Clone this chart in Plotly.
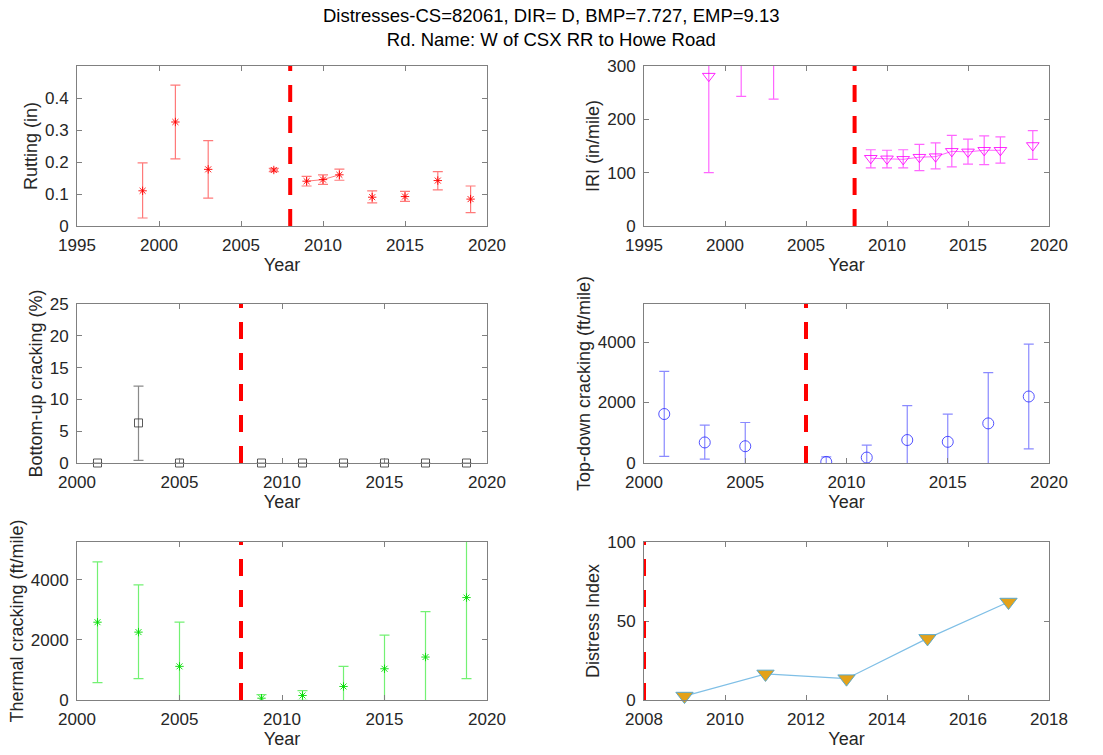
import plotly.graph_objects as go

# ---------------- data ----------------
TITLE_LINE1 = "Distresses-CS=82061, DIR= D, BMP=7.727, EMP=9.13"
TITLE_LINE2 = "Rd. Name: W of CSX RR to Howe Road"
MR_YEAR = 2008  # treatment year (red dashed line)

rut_years = [1999, 2001, 2003, 2007, 2009, 2010, 2011, 2013, 2015, 2017, 2019]
rut_mean = [0.110, 0.325, 0.177, 0.175, 0.140, 0.145, 0.160, 0.090, 0.092, 0.142, 0.084]
rut_lo = [0.025, 0.210, 0.087, 0.170, 0.125, 0.130, 0.143, 0.072, 0.077, 0.113, 0.042]
rut_hi = [0.197, 0.440, 0.267, 0.180, 0.155, 0.160, 0.178, 0.110, 0.108, 0.170, 0.125]

iri_years = [1999, 2001, 2003, 2009, 2010, 2011, 2012, 2013, 2014, 2015, 2016, 2017, 2019]
iri_mean = [281, 380, 375, 127, 126, 125, 129, 130, 140, 139, 142, 142, 151]
iri_lo = [100, 243, 238, 109, 109, 109, 104, 107, 111, 116, 115, 118, 125]
iri_hi = [462, 517, 512, 143, 142, 143, 153, 156, 170, 163, 169, 167, 179]

bu_years = [2001, 2003, 2005, 2009, 2011, 2013, 2015, 2017, 2019]
bu_mean = [0, 6.3, 0, 0, 0, 0, 0, 0, 0]
bu_lo = [0, 0.4, 0, 0, 0, 0, 0, 0, 0]
bu_hi = [0, 12.1, 0, 0, 0, 0, 0, 0, 0]

td_years = [2001, 2003, 2005, 2009, 2011, 2013, 2015, 2017, 2019]
td_mean = [1620, 680, 555, 35, 180, 760, 700, 1310, 2200]
td_lo = [220, 130, -230, -130, -230, -390, -220, -370, 470]
td_hi = [3030, 1250, 1340, 200, 590, 1900, 1620, 2990, 3930]

th_years = [2001, 2003, 2005, 2009, 2011, 2013, 2015, 2017, 2019]
th_mean = [2590, 2260, 1120, 60, 150, 450, 1040, 1430, 3410]
th_lo = [580, 710, -350, -60, -10, -220, -80, -80, 710]
th_hi = [4600, 3830, 2590, 180, 310, 1120, 2160, 2940, 6110]

di_years = [2009, 2011, 2013, 2015, 2017]
di_vals = [2.5, 16.5, 13.5, 39, 62]

# ---------------- helpers ----------------
def with_gaps(years, *cols):
    """Insert None between non-consecutive years so lines only join adjacent years."""
    xs = []
    outs = [[] for _ in cols]
    prev = None
    for i, yr in enumerate(years):
        if prev is not None and yr - prev > 1:
            xs.append(None)
            for o in outs:
                o.append(None)
        xs.append(yr)
        for o, c in zip(outs, cols):
            o.append(c[i])
        prev = yr
    return xs, outs


def err_trace(years, mean, lo, hi, color, bar_color, symbol, size, axis_n, clip=True):
    up = [h - m for h, m in zip(hi, mean)]
    dn = [m - l for m, l in zip(mean, lo)]
    xs, (ys, ups, dns) = with_gaps(years, mean, up, dn)
    sfx = "" if axis_n == 1 else str(axis_n)
    return go.Scatter(
        x=xs, y=ys, mode="lines+markers",
        line=dict(color=bar_color, width=1),
        marker=dict(symbol=symbol, size=size, color=color,
                    line=dict(color=color, width=1)),
        error_y=dict(type="data", array=ups, arrayminus=dns, symmetric=False,
                     color=bar_color, thickness=1.2, width=5),
        xaxis="x" + sfx, yaxis="y" + sfx, showlegend=False, cliponaxis=clip,
    )


fig = go.Figure()
fig.add_trace(err_trace(rut_years, rut_mean, rut_lo, rut_hi,
                        "rgba(255,0,0,0.9)", "rgba(255,50,50,0.65)", "asterisk-open", 7, 1))
fig.add_trace(err_trace(iri_years, iri_mean, iri_lo, iri_hi,
                        "rgba(255,0,255,0.85)", "rgba(255,0,255,0.6)", "triangle-down-open", 11, 2))
fig.add_trace(err_trace(bu_years, bu_mean, bu_lo, bu_hi,
                        "rgba(60,60,60,0.85)", "rgba(60,60,60,0.6)", "square-open", 8, 3, clip=False))
fig.add_trace(err_trace(td_years, td_mean, td_lo, td_hi,
                        "rgba(40,40,255,0.8)", "rgba(60,60,255,0.6)", "circle-open", 11, 4))
fig.add_trace(err_trace(th_years, th_mean, th_lo, th_hi,
                        "rgba(0,220,0,0.9)", "rgba(0,230,0,0.55)", "asterisk-open", 7, 5))
fig.add_trace(go.Scatter(
    x=di_years, y=di_vals, mode="lines+markers",
    line=dict(color="#7fbfe6", width=1.2),
    marker=dict(symbol="triangle-down", size=15, color="#E3A21A",
                line=dict(color="#5aa8cc", width=1)),
    xaxis="x6", yaxis="y6", showlegend=False, cliponaxis=False,
))

# red dashed treatment line in every panel
for n in range(1, 7):
    sfx = "" if n == 1 else str(n)
    fig.add_shape(type="line", xref="x" + sfx, yref="y" + sfx + " domain",
                  x0=MR_YEAR, x1=MR_YEAR, y0=0, y1=1,
                  line=dict(color="#ff0000", width=4, dash="17px,14px"), layer="above")

# ---------------- layout ----------------
W, H = 1103, 755
col_x = [(77, 487), (644, 1049)]
row_y = [(66, 226), (304, 463), (542, 700)]

FONT = "Liberation Sans, Arial, Helvetica, sans-serif"
TXT = "#262626"
AX = "#808080"

def xdom(c):
    return [col_x[c][0] / W, col_x[c][1] / W]

def ydom(r):
    return [1 - row_y[r][1] / H, 1 - row_y[r][0] / H]

def xax(c, r, rng, dtick, anchor):
    return dict(domain=xdom(c), range=rng, dtick=dtick, tick0=rng[0], anchor=anchor,
                automargin=False,
                showline=True, linecolor=AX, linewidth=1, mirror="ticks",
                ticks="inside", ticklen=5, tickcolor=AX, showgrid=False, zeroline=False,
                tickfont=dict(size=17, color=TXT, family=FONT), ticklabelstandoff=4,
                title=dict(text="Year", font=dict(size=18, color=TXT, family=FONT), standoff=3))

def yax(c, r, rng, tickvals, title, anchor):
    return dict(domain=ydom(r), range=rng, tickvals=tickvals, anchor=anchor,
                automargin=False,
                showline=True, linecolor=AX, linewidth=1, mirror="ticks",
                ticks="inside", ticklen=5, tickcolor=AX, showgrid=False, zeroline=False,
                tickfont=dict(size=17, color=TXT, family=FONT), ticklabelstandoff=4,
                title=dict(text=title, font=dict(size=18, color=TXT, family=FONT), standoff=2))

fig.update_layout(
    width=W, height=H, margin=dict(l=0, r=0, t=0, b=0),
    paper_bgcolor="white", plot_bgcolor="white",
    font=dict(family=FONT, color=TXT),
    xaxis=xax(0, 0, [1995, 2020], 5, "y"),
    yaxis=yax(0, 0, [0, 0.5], [0, 0.1, 0.2, 0.3, 0.4], "Rutting (in)", "x"),
    xaxis2=xax(1, 0, [1995, 2020], 5, "y2"),
    yaxis2=yax(1, 0, [0, 300], [0, 100, 200, 300], "IRI (in/mile)", "x2"),
    xaxis3=xax(0, 1, [2000, 2020], 5, "y3"),
    yaxis3=yax(0, 1, [0, 25], [0, 5, 10, 15, 20, 25], "Bottom-up cracking (%)", "x3"),
    xaxis4=xax(1, 1, [2000, 2020], 5, "y4"),
    yaxis4=yax(1, 1, [0, 5260], [0, 2000, 4000], "Top-down cracking (ft/mile)", "x4"),
    xaxis5=xax(0, 2, [2000, 2020], 5, "y5"),
    yaxis5=yax(0, 2, [0, 5260], [0, 2000, 4000], "Thermal cracking (ft/mile)", "x5"),
    xaxis6=xax(1, 2, [2008, 2018], 2, "y6"),
    yaxis6=yax(1, 2, [0, 100], [0, 50, 100], "Distress Index", "x6"),
    annotations=[dict(text=TITLE_LINE1 + "<br>" + TITLE_LINE2, xref="paper", yref="paper",
                      x=0.5, y=1 - 27 / H, xanchor="center", yanchor="middle",
                      showarrow=False, font=dict(size=18.5, color="#000000", family=FONT))],
)

fig.write_html("out.html")
